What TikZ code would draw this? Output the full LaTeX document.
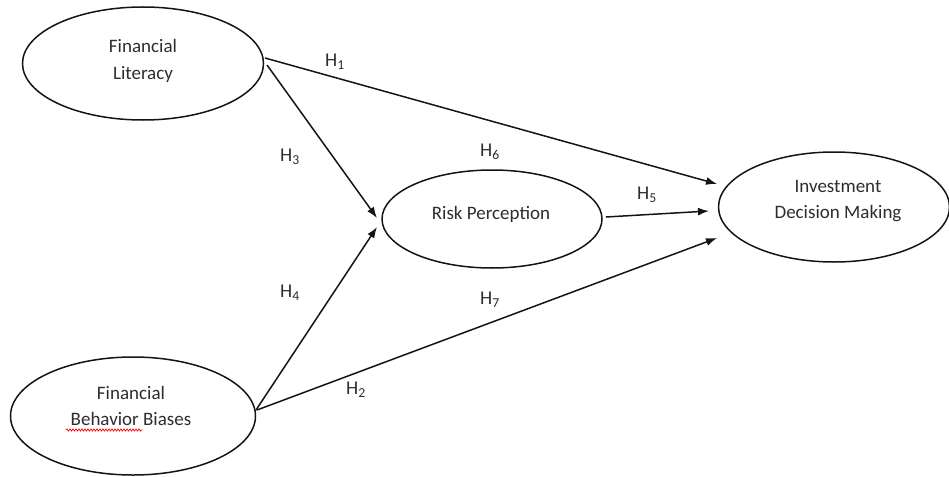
\documentclass[tikz,border=0pt]{standalone}
\usepackage{fontspec}
\setmainfont{Carlito}
\usetikzlibrary{shapes.geometric,arrows.meta,decorations.pathmorphing}
\definecolor{txt}{RGB}{45,45,45}
\definecolor{ln}{RGB}{20,20,20}
\tikzset{
  construct/.style={ellipse, draw=ln, line width=1.5pt, inner sep=0pt},
  lbl/.style={text=txt, align=center, font=\fontsize{19}{26.5}\selectfont},
  hyp/.style={text=txt, font=\fontsize{19.5}{22}\selectfont, inner sep=0pt},
  path/.style={draw=ln, line width=1.5pt, -{Latex[length=11pt,width=8pt]}}
}
\begin{document}
\begin{tikzpicture}[x=1pt,y=-1pt]
\useasboundingbox (0,0) rectangle (949,476);
% constructs
\node[construct, minimum width=241pt, minimum height=113pt] (fl) at (143,63.5) {};
\node[lbl] (flt) at (143,61) {Financial\\Literacy};
\node[construct, minimum width=245pt, minimum height=118pt] (fb) at (133,416) {};
\node[lbl] (fbt) at (131,406) {Financial\\Behavior Biases};
\node[construct, minimum width=220pt, minimum height=98pt] (rp) at (492,219) {};
\node[lbl] (rpt) at (491,214) {Risk Perception};
\node[construct, minimum width=231pt, minimum height=110pt] (idm) at (834,207) {};
\node[lbl] (idmt) at (838,201) {Investment\\Decision Making};
% spell-check squiggle
\coordinate (sq1) at (66,430);
\coordinate (sq2) at (142,430);
\draw[red, line width=0.7pt, decorate, decoration={snake, amplitude=1.1pt, segment length=3pt}] (sq1) -- (sq2);
% endpoints
\coordinate (flA) at (265,58);
\coordinate (flB) at (267,65);
\coordinate (fbA) at (256,410);
\coordinate (fbB) at (257,410);
\coordinate (rpIn1) at (377,218);
\coordinate (rpIn2) at (377,227);
\coordinate (rpOut) at (606,217);
\coordinate (idmIn1) at (717,184);
\coordinate (idmIn2) at (709,211);
\coordinate (idmIn3) at (717,238);
% paths
\draw[path] (flA) -- (idmIn1);
\draw[path] (flB) -- (rpIn1);
\draw[path] (fbA) -- (rpIn2);
\draw[path] (fbB) -- (idmIn3);
\draw[path] (rpOut) -- (idmIn2);
% hypothesis labels
\node[hyp] (h1) at (335,62) {H\textsubscript{1}};
\node[hyp] (h3) at (290,157) {H\textsubscript{3}};
\node[hyp] (h6) at (490,152) {H\textsubscript{6}};
\node[hyp] (h5) at (647,195) {H\textsubscript{5}};
\node[hyp] (h4) at (290,293) {H\textsubscript{4}};
\node[hyp] (h7) at (490,300) {H\textsubscript{7}};
\node[hyp] (h2) at (356,390) {H\textsubscript{2}};
\end{tikzpicture}
\end{document}
